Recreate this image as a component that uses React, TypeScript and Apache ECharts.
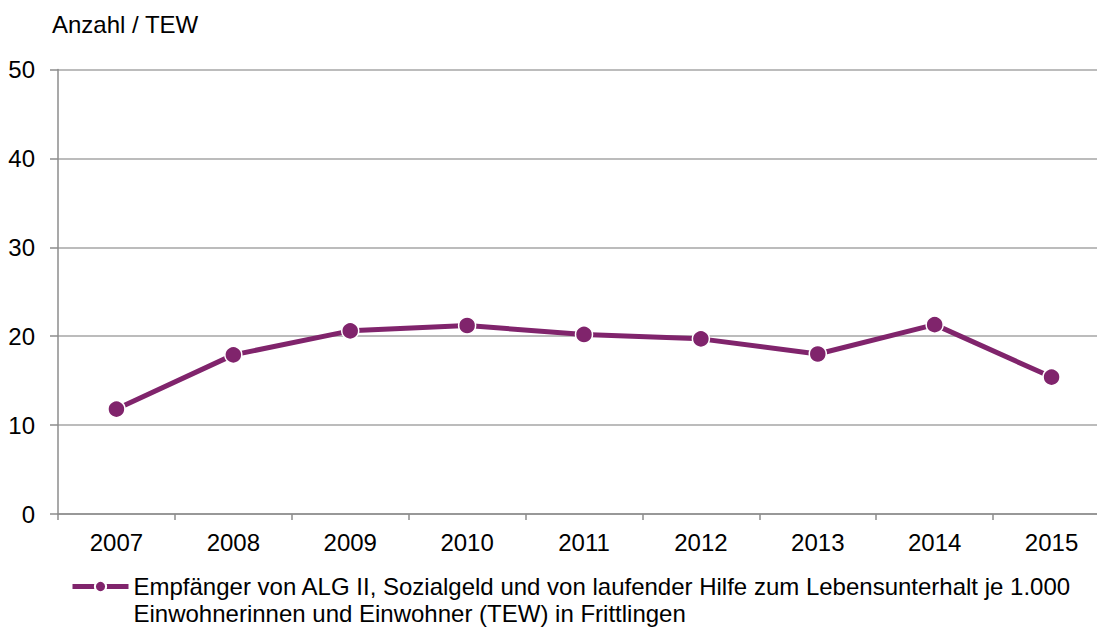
import React, { useEffect, useRef } from "react";
import * as echarts from "echarts";

const years = ["2007", "2008", "2009", "2010", "2011", "2012", "2013", "2014", "2015"];
const values = [11.8, 17.9, 20.6, 21.2, 20.2, 19.7, 18.0, 21.3, 15.4];
const seriesName =
  "Empfänger von ALG II, Sozialgeld und von laufender Hilfe zum Lebensunterhalt je 1.000\nEinwohnerinnen und Einwohner (TEW) in Frittlingen";
const yTitle = "Anzahl / TEW";

const PURPLE = "#80246c";
const FONT = "Liberation Sans, Arial, sans-serif";
const FS = 24;

export default function App() {
  const ref = useRef<HTMLDivElement>(null);
  useEffect(() => {
    if (!ref.current) return;
    const chart = echarts.init(ref.current, undefined, { renderer: "svg" });
    chart.setOption({
      animation: false,
      backgroundColor: "#ffffff",
      title: {
        text: yTitle,
        left: 52,
        top: 12,
        padding: 0,
        textStyle: { fontFamily: FONT, fontSize: FS, fontWeight: "normal", color: "#000" },
      },
      grid: {
        left: 58,
        width: 1052,
        top: 69.5,
        height: 444.5,
        containLabel: false,
        outerBoundsMode: "none",
      },
      legend: {
        left: 70,
        top: 546,
        padding: 0,
        itemWidth: 56,
        itemHeight: 14,
        formatter: (name: string) => " \n" + name,
        lineStyle: { width: 5 },
        textStyle: {
          fontFamily: FONT,
          fontSize: FS,
          color: "#000",
          lineHeight: 27,
        },
        data: [{ name: seriesName }],
      },
      xAxis: {
        type: "category",
        data: years,
        boundaryGap: true,
        axisLine: { show: true, lineStyle: { color: "#8c8c8c", width: 1.5 } },
        axisTick: { show: true, length: 6, lineStyle: { color: "#8c8c8c", width: 1.5 } },
        axisLabel: { margin: 16, fontFamily: FONT, fontSize: FS, color: "#000" },
        splitLine: { show: false },
      },
      yAxis: {
        type: "value",
        min: 0,
        max: 50,
        interval: 10,
        axisLine: { show: true, lineStyle: { color: "#8c8c8c", width: 1.5 } },
        axisTick: { show: true, length: 8, lineStyle: { color: "#8c8c8c", width: 1.5 } },
        axisLabel: { margin: 23, fontFamily: FONT, fontSize: FS, color: "#000" },
        splitLine: { show: true, lineStyle: { color: "#a6a6a6", width: 1.5 } },
      },
      series: [
        {
          name: seriesName,
          type: "line",
          data: values,
          symbol: "circle",
          symbolSize: 17,
          lineStyle: { color: PURPLE, width: 5 },
          itemStyle: { color: PURPLE, borderColor: "#fff", borderWidth: 1.5 },
        },
      ],
    });
    return () => chart.dispose();
  }, []);
  return (
    <div
      ref={ref}
      style={{ position: "fixed", left: 0, top: 0, width: 1097, height: 627 }}
    />
  );
}
